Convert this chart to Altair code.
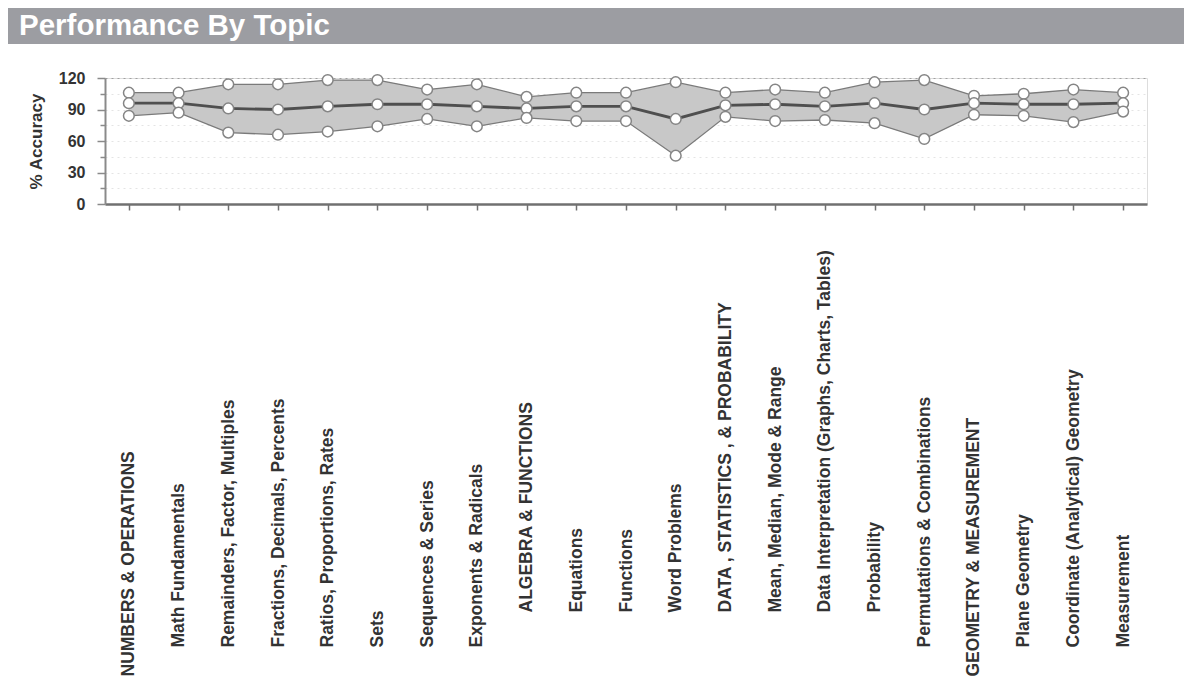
import json
import altair as alt
import pandas as pd

title_text = "Performance By Topic"

topics = [
    "NUMBERS & OPERATIONS",
    "Math Fundamentals",
    "Remainders, Factor, Multiples",
    "Fractions, Decimals, Percents",
    "Ratios, Proportions, Rates",
    "Sets",
    "Sequences & Series",
    "Exponents & Radicals",
    "ALGEBRA & FUNCTIONS",
    "Equations",
    "Functions",
    "Word Problems",
    "DATA , STATISTICS , & PROBABILITY",
    "Mean, Median, Mode & Range",
    "Data Interpretation (Graphs, Charts, Tables)",
    "Probability",
    "Permutations & Combinations",
    "GEOMETRY & MEASUREMENT",
    "Plane Geometry",
    "Coordinate (Analytical) Geometry",
    "Measurement",
]
upper = [106, 106, 114, 114, 118, 118, 109, 114, 102, 106, 106, 116, 106, 109, 106, 116, 118, 103, 105, 109, 106]
mean = [96, 96, 91, 90, 93, 95, 95, 93, 91, 93, 93, 81, 94, 95, 93, 96, 90, 96, 95, 95, 96]
lower = [84, 87, 68, 66, 69, 74, 81, 74, 82, 79, 79, 46, 83, 79, 80, 77, 62, 85, 84, 78, 88]

y_ticks = [0, 15, 30, 45, 60, 75, 90, 105, 120]

df = pd.DataFrame({"topic": topics, "upper": upper, "mean": mean, "lower": lower})

group_high = topics[8:16]
group_low = [topics[0], topics[17]]

FONT = "Liberation Sans"

x_axis = alt.Axis(
    title=None,
    labelAngle=270,
    labelAlign="left",
    labelBaseline="middle",
    labelFont=FONT,
    labelFontSize=17.5,
    labelFontWeight="bold",
    labelColor="#333333",
    labelLimit=600,
    labelOverlap=False,
    labelPadding={
        "condition": [
            {"test": "indexof(%s, datum.value) >= 0" % json.dumps(group_high), "value": 402},
            {"test": "indexof(%s, datum.value) >= 0" % json.dumps(group_low), "value": 466},
        ],
        "value": 437,
    },
    domainColor="#707070",
    domainWidth=2.5,
    tickColor="#707070",
    tickSize=6,
    tickWidth=1.5,
    grid=False,
)

x = alt.X(
    "topic:N",
    sort=topics,
    scale=alt.Scale(type="point", padding=0.48),
    axis=x_axis,
)

y_axis = alt.Axis(
    values=y_ticks,
    labelExpr="datum.value % 30 == 0 ? datum.label : ''",
    labelOverlap=False,
    labelBound=False,
    title="% Accuracy",
    titleFont=FONT,
    titleFontSize=17,
    titleFontWeight="bold",
    titleColor="#333333",
    titleAngle=270,
    titleAlign="center",
    titleBaseline="middle",
    titleX=-69,
    titleY=63,
    labelFont=FONT,
    labelFontSize=16,
    labelFontWeight="bold",
    labelColor="#333333",
    labelPadding=12,
    tickSize={"condition": {"test": "datum.value % 30 == 0", "value": 8}, "value": 5},
    tickColor="#8a8a8a",
    tickWidth=1.5,
    domainColor="#8a8a8a",
    domainWidth=2,
    grid=True,
    gridDash=[2, 4],
    gridColor={"condition": {"test": "datum.value == 120", "value": "#a0a0a0"}, "value": "#e4e4e4"},
)

y_scale = alt.Scale(domain=[0, 120], nice=False)


def yenc(field):
    return alt.Y(field, type="quantitative", scale=y_scale, axis=y_axis)


base = alt.Chart(df)

band = base.mark_area(color="#c8c8c8", opacity=1).encode(
    x=x,
    y=yenc("lower"),
    y2="upper:Q",
)
line_up = base.mark_line(color="#7a7a7a", strokeWidth=1.3).encode(x=x, y=yenc("upper"))
line_lo = base.mark_line(color="#7a7a7a", strokeWidth=1.3).encode(x=x, y=yenc("lower"))
line_mean = base.mark_line(color="#4f4f4f", strokeWidth=2.8).encode(x=x, y=yenc("mean"))

pt_style = dict(fill="white", stroke="#858585", strokeWidth=1.5, size=115, opacity=1)
pts_up = base.mark_circle(**pt_style).encode(x=x, y=yenc("upper"))
pts_mean = base.mark_circle(**pt_style).encode(x=x, y=yenc("mean"))
pts_lo = base.mark_circle(**pt_style).encode(x=x, y=yenc("lower"))

head = alt.Chart(pd.DataFrame({"t": [title_text]}))
head_bar = head.mark_rect(color="#9c9da2").encode(
    x=alt.value(-97), x2=alt.value(1079), y=alt.value(-70), y2=alt.value(-34)
)
head_txt = head.mark_text(
    align="left", baseline="alphabetic", font=FONT, fontSize=29.5, fontWeight="bold", color="white"
).encode(x=alt.value(-86), y=alt.value(-43), text="t:N")

chart = (
    alt.layer(band, line_up, line_lo, line_mean, pts_up, pts_mean, pts_lo, head_bar, head_txt)
    .properties(
        width=1042,
        height=126,
        autosize=alt.AutoSizeParams(type="none"),
        padding={"left": 97, "top": 70, "right": 37, "bottom": 474},
    )
    .configure_view(stroke=None)
    .configure_axisY(labelOverlap=False)
    .configure(background="white")
)

chart.save("out.html", embed_options={"renderer": "svg", "actions": False})
